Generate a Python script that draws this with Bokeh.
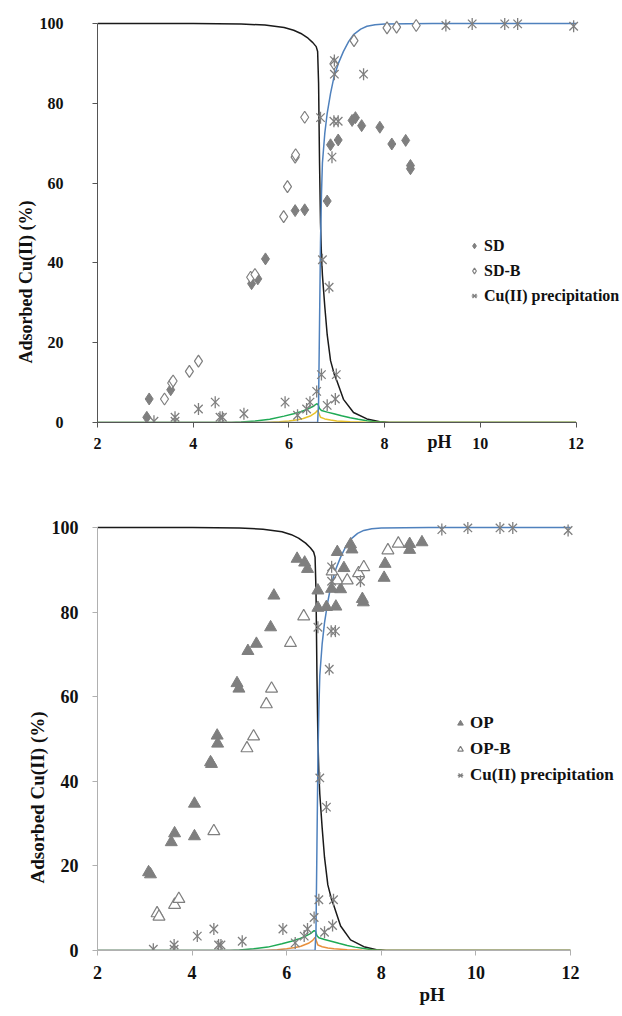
import math
from bokeh.plotting import figure
from bokeh.layouts import column
from bokeh.models import Range1d, Legend, LegendItem, Title, FixedTicker
from bokeh.embed import file_html
from bokeh.resources import INLINE

# ---------------- data ----------------
x_ticks = [2, 4, 6, 8, 10, 12]
y_ticks = [0, 20, 40, 60, 80, 100]

# speciation model curves (same in both panels)
black_x = [2, 4, 5, 5.5, 5.9, 6.1, 6.25, 6.4, 6.5, 6.57, 6.60, 6.62, 6.64, 6.66, 6.68, 6.70,
           6.75, 6.80, 6.87, 6.95, 7.0, 7.14, 7.35, 7.63, 7.9, 8.1, 9, 12]
black_y = [100, 100, 99.9, 99.6, 99.0, 98.3, 97.5, 96.3, 95.2, 94.2, 93.0, 85, 65, 50, 42, 37,
           29, 22, 15.5, 12, 10.5, 5.8, 2.5, 0.9, 0.2, 0, 0, 0]
blue_x = [2, 6.60, 6.62, 6.64, 6.66, 6.68, 6.70, 6.75, 6.80, 6.87, 6.94, 7.04, 7.14, 7.25,
          7.35, 7.5, 7.63, 7.8, 8.0, 9, 12]
blue_y = [0, 0, 5, 25, 45, 57, 65, 72.5, 77.5, 82.5, 86.5, 90.2, 93, 95.5,
          97.2, 98.6, 99.3, 99.7, 99.9, 100, 100]
green_x = [2, 4.8, 5.0, 5.3, 5.6, 5.9, 6.1, 6.25, 6.4, 6.5, 6.58, 6.61, 6.64, 6.68, 6.8,
           6.94, 7.1, 7.28, 7.45, 7.63, 7.8, 8.0, 8.5, 12]
green_y = [0, 0, 0.1, 0.4, 0.8, 1.6, 2.2, 2.7, 3.4, 4.0, 4.7, 4.5, 3.5, 3.0, 2.6,
           2.2, 1.7, 1.2, 0.8, 0.45, 0.2, 0.05, 0, 0]
minor_x = [2, 5.5, 5.8, 6.0, 6.18, 6.3, 6.46, 6.55, 6.60, 6.63, 6.66, 6.75, 6.87, 7.0,
           7.28, 7.6, 8.0, 12]
minor_y = [0, 0, 0.2, 0.4, 0.7, 1.0, 1.7, 2.4, 3.1, 2.2, 1.3, 0.9, 0.6, 0.4,
           0.2, 0.05, 0, 0]

# Cu(II) precipitation (both panels)
cu_x = [3.18, 3.62, 3.62, 4.11, 4.46, 4.56, 4.61, 5.06, 5.92, 6.18, 6.37, 6.44, 6.58, 6.68,
        6.66, 6.70, 6.80, 6.84, 6.90, 6.94, 6.95, 6.95, 6.97, 6.99, 7.03, 7.56,
        9.28, 9.83, 10.51, 10.78, 11.95]
cu_y = [0.3, 1.3, 0.3, 3.4, 5.1, 1.3, 1.3, 2.2, 5.1, 1.8, 3.4, 5.1, 7.8, 12.0,
        76.4, 40.8, 4.3, 33.9, 66.5, 75.5, 90.7, 87.3, 5.9, 12.0, 75.5, 87.3,
        99.5, 99.9, 99.9, 99.9, 99.3]

# top panel: SD and SD-B
sd_x = [3.03, 3.08, 3.53, 5.22, 5.35, 5.51, 6.13, 6.33, 6.80, 6.87, 7.03, 7.32, 7.39, 7.52,
        7.90, 8.15, 8.44, 8.54, 8.54]
sd_y = [1.3, 5.9, 8.2, 34.8, 36.0, 41.0, 53.1, 53.3, 55.5, 69.6, 70.8, 75.7, 76.4, 74.4,
        74.0, 69.8, 70.7, 64.4, 63.6]
sdb_x = [3.40, 3.55, 3.58, 3.92, 4.11, 5.20, 5.29, 5.89, 5.97, 6.13, 6.14, 6.33, 6.94,
         7.36, 8.05, 8.25, 8.66]
sdb_y = [5.9, 9.9, 10.4, 12.8, 15.4, 36.4, 37.1, 51.6, 59.1, 66.5, 67.1, 76.5, 89.9,
         95.7, 98.9, 99.1, 99.5]

# bottom panel: OP and OP-B
op_x = [3.08, 3.12, 3.56, 3.63, 4.05, 4.05, 4.39, 4.41, 4.53, 4.54, 4.95, 4.99, 5.18, 5.36,
        5.66, 5.73, 6.22, 6.38, 6.44, 6.66, 6.66, 6.84, 6.95, 7.04, 7.07, 7.14, 7.21, 7.35,
        7.38, 7.60, 7.62, 8.06, 8.08, 8.60, 8.60, 8.86]
op_y = [18.5, 18.0, 25.6, 27.7, 27.0, 34.7, 44.5, 44.1, 50.8, 48.9, 63.2, 61.9, 70.8, 72.5,
        76.4, 83.9, 92.6, 91.7, 90.2, 85.1, 81.0, 81.2, 85.5, 81.3, 94.2, 85.4, 90.4, 96.0,
        94.8, 83.1, 82.3, 88.1, 91.4, 96.1, 94.7, 96.5]
opb_x = [3.26, 3.30, 3.63, 3.72, 4.46, 5.16, 5.30, 5.57, 5.68, 6.08, 6.36, 6.96, 7.07,
         7.28, 7.52, 7.63, 8.14, 8.36]
opb_y = [8.8, 8.0, 10.8, 12.2, 28.2, 47.8, 50.6, 58.2, 61.9, 72.7, 79.0, 89.6, 87.5,
         87.5, 89.2, 90.6, 94.6, 96.2]

FONT = "Liberation Serif"
GRAY = "#7f7f7f"
INK = "#111111"


def panel(h, bl, bb, x_end, y_end, axis_col, tick_fs, y_standoff, minor_col):
    # frame runs to the right and top edges so the legend is not cut;
    # axis bounds keep the axis lines on the 2-12 / 0-100 span
    p = figure(width=622, height=h, output_backend="svg", toolbar_location=None,
               x_range=Range1d(2, x_end), y_range=Range1d(0, y_end),
               min_border_left=bl, min_border_right=0, min_border_top=0,
               min_border_bottom=bb)
    p.outline_line_color = None
    p.grid.visible = False
    p.xaxis.ticker = FixedTicker(ticks=x_ticks)
    p.yaxis.ticker = FixedTicker(ticks=y_ticks)
    p.xaxis.bounds = (2, 12)
    p.yaxis.bounds = (0, 100)
    for ax in (p.xaxis[0], p.yaxis[0]):
        ax.axis_line_color = axis_col
        ax.major_tick_line_color = axis_col
        ax.minor_tick_line_color = None
        ax.major_tick_in = 0
        ax.major_tick_out = 5
        ax.major_label_text_font = FONT
        ax.major_label_text_font_style = "bold"
        ax.major_label_text_font_size = tick_fs
        ax.major_label_text_color = INK
    p.xaxis.major_label_standoff = 10
    p.yaxis.major_label_standoff = y_standoff

    # model curves
    p.line(black_x, black_y, line_color="#1a1a1a", line_width=1.5)
    p.line(green_x, green_y, line_color="#1faa55", line_width=1.5)
    p.line(minor_x, minor_y, line_color=minor_col, line_width=1.5)
    p.line(blue_x, blue_y, line_color="#4f81bd", line_width=1.5)
    return p


def add_cu(p):
    r1 = p.scatter(cu_x, cu_y, marker="x", size=12, line_color=GRAY, line_width=1.3)
    r2 = p.scatter(cu_x, cu_y, marker="dash", angle=math.pi / 2, size=12,
                   line_color=GRAY, line_width=1.3)
    return [r1, r2]


def add_legend(p, items, x, y, gh, fs):
    leg = Legend(items=items, location=(x, y), orientation="vertical")
    leg.border_line_color = None
    leg.background_fill_alpha = 0
    leg.padding = 0
    leg.margin = 0
    leg.spacing = 0
    leg.glyph_width = 14
    leg.glyph_height = gh
    leg.label_height = gh
    leg.label_standoff = 3
    leg.label_text_font = FONT
    leg.label_text_font_style = "bold"
    leg.label_text_font_size = fs
    leg.label_text_color = INK
    p.add_layout(leg, "center")


def add_titles(p, y_off, x_off, x_standoff, x_valign, fs):
    p.add_layout(Title(text="Adsorbed Cu(II) (%)", align="left", offset=y_off,
                       standoff=2, text_font=FONT, text_font_style="bold",
                       text_font_size=fs, text_color=INK), "left")
    p.add_layout(Title(text="pH", align="left", offset=x_off, standoff=x_standoff,
                       vertical_align=x_valign,
                       text_font=FONT, text_font_style="bold",
                       text_font_size=fs, text_color=INK), "below")


# ---------------- top panel ----------------
# frame: x 91..622 (x=12 at 575), y 0..422 (y=100 at 23)
p1 = panel(500, 91, 78, 12.971, 105.76, "#555555", "16px", 29, "#e8c22a")
r_sd = p1.scatter(sd_x, sd_y, marker="diamond", size=12, fill_color=GRAY, line_color=GRAY)
r_sdb = p1.scatter(sdb_x, sdb_y, marker="diamond", size=12, fill_color="white",
                   line_color=GRAY, line_width=1.2)
r_cu1 = add_cu(p1)
add_legend(p1, [LegendItem(label="SD", renderers=[r_sd]),
                LegendItem(label="SD-B", renderers=[r_sdb]),
                LegendItem(label="Cu(II) precipitation", renderers=r_cu1)],
           370, 114, 25, "16px")
add_titles(p1, 59, 330, -40, "top", "18px")

# ---------------- bottom panel ----------------
# frame: x 97..622 (x=12 at 570), y 0..450 (y=100 at 27)
p2 = panel(516, 97, 66, 13.10, 106.38, "#b0b0b0", "18px", 14, "#e8903c")
r_op = p2.scatter(op_x, op_y, marker="triangle", size=12, fill_color=GRAY, line_color=GRAY)
r_opb = p2.scatter(opb_x, opb_y, marker="triangle", size=12, fill_color="white",
                   line_color=GRAY, line_width=1.2)
r_cu2 = add_cu(p2)
add_legend(p2, [LegendItem(label="OP", renderers=[r_op]),
                LegendItem(label="OP-B", renderers=[r_opb]),
                LegendItem(label="Cu(II) precipitation", renderers=r_cu2)],
           356, 162, 26, "17px")
add_titles(p2, 67, 322, 0, "bottom", "19px")

layout = column(p1, p2, spacing=0)
open("out.html", "w").write(file_html(layout, INLINE))
